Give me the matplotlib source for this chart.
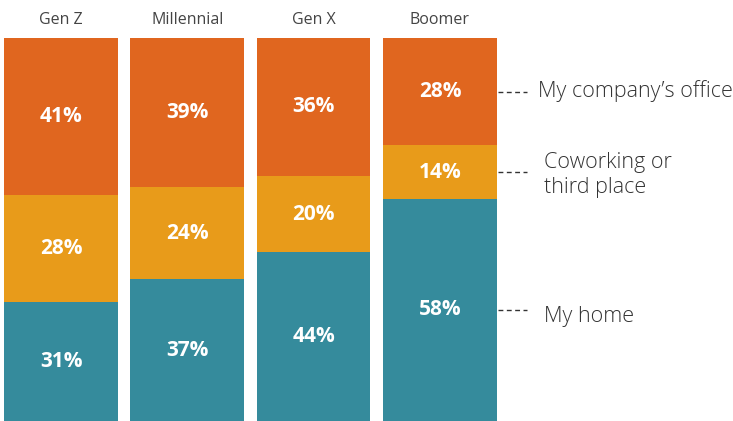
import numpy as np
import matplotlib.pyplot as plt

plt.rcParams['font.family'] = ['Open Sans', 'DejaVu Sans']

generations = ['Gen Z', 'Millennial', 'Gen X', 'Boomer']
home = [31, 37, 44, 58]
coworking = [28, 24, 20, 14]
office = [41, 39, 36, 28]
legend_labels = ['My home', 'Coworking or\nthird place', 'My company\u2019s office']

teal = '#358b9c'
amber = '#e89b1a'
orange = '#e0661f'

fig = plt.figure(figsize=(7.33, 4.21), dpi=100)
ax = fig.add_axes([0, 0, 1, 383 / 421])

x = np.arange(len(generations))
w = 0.9
bottom = np.zeros(len(x))
for vals, col in zip([home, coworking, office], [teal, amber, orange]):
    ax.bar(x, vals, w, bottom=bottom, color=col, linewidth=0)
    for xi, b, v in zip(x, bottom, vals):
        ax.text(xi, b + v / 2, f'{v}%', ha='center', va='center',
                color='white', fontsize=15, fontweight='bold')
    bottom += vals

for xi, name in zip(x, generations):
    ax.text(xi, 104.8, name, ha='center', va='center', color='#444444',
            fontsize=11.5, clip_on=False)

# legend labels next to the last bar
last = len(x) - 1
seg_mid = [home[last] / 2,
           home[last] + coworking[last] / 2,
           home[last] + coworking[last] + office[last] / 2]
text_x = [3.82, 3.82, 3.78]
text_dy = [-1.6, -0.9, 0.2]
for ym, lab, tx, dy in zip(seg_mid, legend_labels, text_x, text_dy):
    ax.plot([last + w / 2 + 0.01, 3.69], [ym, ym], color='#333333',
            linestyle=(0, (3.5, 2.5)), linewidth=1)
    ax.text(tx, ym + dy, lab, ha='left', va='center', color='#333333',
            fontsize=15.5, fontweight='light', linespacing=1.25)

ax.set_xlim(-0.483, 5.32)
ax.set_ylim(0, 100)
ax.axis('off')

fig.savefig('out.png', dpi=100)
